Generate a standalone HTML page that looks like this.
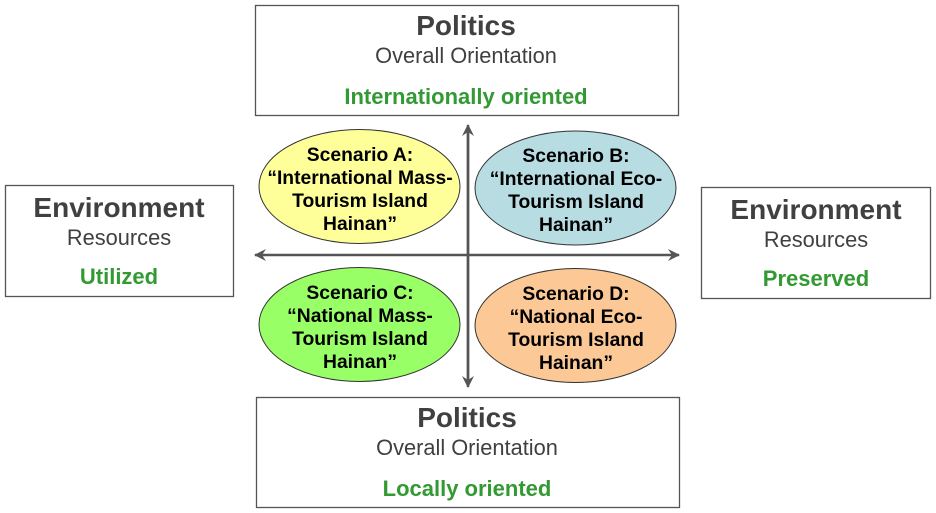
<!DOCTYPE html>
<html><head><style>body{margin:0;background:#fff}svg{display:block}</style></head><body>
<svg width="936" height="513" viewBox="0 0 936 513" xmlns="http://www.w3.org/2000/svg" font-family="Liberation Sans, Arial, sans-serif">
<defs><marker id="a" markerWidth="14" markerHeight="14" refX="11" refY="6" orient="auto" markerUnits="userSpaceOnUse"><path d="M0,0 L12,6 L0,12 L4,6 Z" fill="#555"/></marker></defs>
<g fill="#fff" stroke="#555" stroke-width="1.3">
<rect x="255.5" y="5.5" width="423" height="110"/>
<rect x="5.5" y="185.5" width="228" height="111"/>
<rect x="701.5" y="187.5" width="229" height="111"/>
<rect x="256.5" y="397.5" width="423" height="110"/>
</g>
<g stroke="#555" stroke-width="2.5">
<line x1="468" y1="385" x2="468" y2="125" marker-end="url(#a)"/>
<line x1="468" y1="127" x2="468" y2="387" marker-end="url(#a)"/>
<line x1="468" y1="255" x2="679" y2="255" marker-end="url(#a)"/>
<line x1="468" y1="255" x2="255" y2="255" marker-end="url(#a)"/>
</g>
<g stroke="#333" stroke-width="1">
<ellipse cx="359.5" cy="186.5" rx="100.5" ry="57" fill="#ffff99"/>
<ellipse cx="575.5" cy="188" rx="100.5" ry="57" fill="#b7dde3"/>
<ellipse cx="359.5" cy="324.5" rx="100.5" ry="57" fill="#99ff66"/>
<ellipse cx="575.5" cy="325.5" rx="100.5" ry="57" fill="#fcc896"/>
</g>
<g text-anchor="middle" font-weight="bold" font-size="19.3" fill="#000">
<text x="360" y="161">Scenario A:</text><text x="360" y="184">“International Mass-</text><text x="360" y="207">Tourism Island</text><text x="360" y="230">Hainan”</text>
<text x="576" y="162">Scenario B:</text><text x="576" y="185">“International Eco-</text><text x="576" y="208">Tourism Island</text><text x="576" y="231">Hainan”</text>
<text x="360" y="299">Scenario C:</text><text x="360" y="322">“National Mass-</text><text x="360" y="345">Tourism Island</text><text x="360" y="368">Hainan”</text>
<text x="576" y="300">Scenario D:</text><text x="576" y="323">“National Eco-</text><text x="576" y="346">Tourism Island</text><text x="576" y="369">Hainan”</text>
</g>
<g text-anchor="middle" fill="#404040">
<text x="466" y="35" font-size="28" font-weight="bold">Politics</text>
<text x="466" y="63" font-size="21.8">Overall Orientation</text>
<text x="466" y="104" font-size="22" font-weight="bold" fill="#339933">Internationally oriented</text>
<text x="467" y="427" font-size="28" font-weight="bold">Politics</text>
<text x="467" y="455" font-size="21.8">Overall Orientation</text>
<text x="467" y="496" font-size="22" font-weight="bold" fill="#339933">Locally oriented</text>
<text x="119" y="217" font-size="28" font-weight="bold">Environment</text>
<text x="119" y="245" font-size="21.8">Resources</text>
<text x="119" y="284" font-size="22" font-weight="bold" fill="#339933">Utilized</text>
<text x="816" y="219" font-size="28" font-weight="bold">Environment</text>
<text x="816" y="247" font-size="21.8">Resources</text>
<text x="816" y="286" font-size="22" font-weight="bold" fill="#339933">Preserved</text>
</g>
</svg>
</body></html>
